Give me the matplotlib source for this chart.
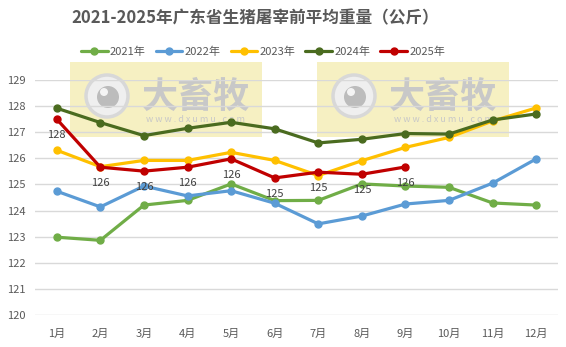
import matplotlib
matplotlib.use("Agg")
import matplotlib.pyplot as plt
from matplotlib.patches import Rectangle, Circle

plt.rcParams["font.family"] = ["Noto Sans CJK SC", "DejaVu Sans"]

months = ["1月", "2月", "3月", "4月", "5月", "6月", "7月", "8月", "9月", "10月", "11月", "12月"]
w2021 = [122.98, 122.86, 124.21, 124.39, 125.02, 124.38, 124.39, 125.02, 124.94, 124.89, 124.29, 124.21]
w2022 = [124.74, 124.14, 124.94, 124.56, 124.76, 124.28, 123.49, 123.79, 124.25, 124.39, 125.05, 125.98]
w2023 = [126.31, 125.68, 125.92, 125.92, 126.23, 125.92, 125.34, 125.91, 126.42, 126.80, 127.43, 127.93]
w2024 = [127.92, 127.37, 126.87, 127.15, 127.38, 127.13, 126.59, 126.73, 126.95, 126.93, 127.47, 127.70]
w2025 = [127.50, 125.66, 125.51, 125.66, 125.98, 125.25, 125.47, 125.39, 125.67]

series = [
    ("2021年", w2021, "#70ad47"),
    ("2022年", w2022, "#5b9bd5"),
    ("2023年", w2023, "#ffc000"),
    ("2024年", w2024, "#4a6b1f"),
    ("2025年", w2025, "#c00000"),
]

W, H = 566, 347
fig = plt.figure(figsize=(W / 100, H / 100), dpi=100)
fig.patch.set_facecolor("white")

ax = fig.add_axes([35 / W, 1 - 315 / H, (558 - 35) / W, (315 - 80) / H])
ax.set_facecolor("none")


def px(x, y):
    # image pixel position -> inches from bottom-left
    return x / 100, (H - y) / 100


def watermark(x0):
    tr = fig.dpi_scale_trans
    fig.add_artist(Rectangle(px(x0, 137), 192 / 100, 75 / 100, transform=tr,
                             facecolor="#f6f0c2", edgecolor="none", zorder=-3))
    cx, cy = x0 + 37, 96
    fig.add_artist(Circle(px(cx, cy), 21 / 100, transform=tr, facecolor="#efefef",
                          edgecolor="#d8d8d8", linewidth=2.5, zorder=-2))
    fig.add_artist(Circle(px(cx + 1, cy + 1), 11 / 100, transform=tr,
                          facecolor="#bcbcbc", edgecolor="none", zorder=-2))
    fig.add_artist(Circle(px(cx - 3, cy - 4), 4 / 100, transform=tr,
                          facecolor="#f4f4f4", edgecolor="none", zorder=-2))
    tx, ty = px(x0 + 126, 97)
    fig.text(tx, ty, "大畜牧", transform=tr, fontsize=26, fontweight="bold",
             color="#c8c8c8", ha="center", va="center", zorder=-2)
    tx, ty = px(x0 + 126, 119)
    fig.text(tx, ty, "w w w . d x u m u . c o m", transform=tr, fontsize=6.5,
             color="#c8c8c8", ha="center", va="center", zorder=-2)


watermark(70)
watermark(317)

x = list(range(len(months)))
for name, vals, color in series:
    ax.plot(x[:len(vals)], vals, color=color, linewidth=2.3, marker="o",
            markersize=5, label=name, zorder=3, solid_capstyle="round")

# value labels under the 2025 points
for i, v in enumerate(w2025):
    ax.annotate(f"{v:.0f}", (i, v), xytext=(0, -11.5), textcoords="offset points",
                ha="center", va="center", fontsize=8, color="#404040", zorder=4)

ax.set_xlim(-0.5, 11.5)
ax.set_ylim(120, 129)
ax.set_yticks(range(120, 130))
ax.set_xticks(x)
ax.set_xticklabels(months)
ax.grid(axis="y", color="#d9d9d9", linewidth=1, zorder=1)
ax.set_axisbelow(True)
for s in ax.spines.values():
    s.set_visible(False)
ax.tick_params(length=0, labelsize=8, colors="#595959")
ax.tick_params(axis="x", pad=10)
ax.tick_params(axis="y", pad=7)

fig.text(255 / W, 1 - 18 / H, "2021-2025年广东省生猪屠宰前平均重量（公斤）",
         ha="center", va="center", fontsize=12, fontweight="bold", color="#595959")

fig.legend(loc="center", bbox_to_anchor=(263 / W, 1 - 52 / H), ncol=5,
           frameon=False, fontsize=8, handlelength=2.4, handletextpad=0.2,
           columnspacing=0.9, labelcolor="#595959")

fig.savefig("out.png", dpi=100)
